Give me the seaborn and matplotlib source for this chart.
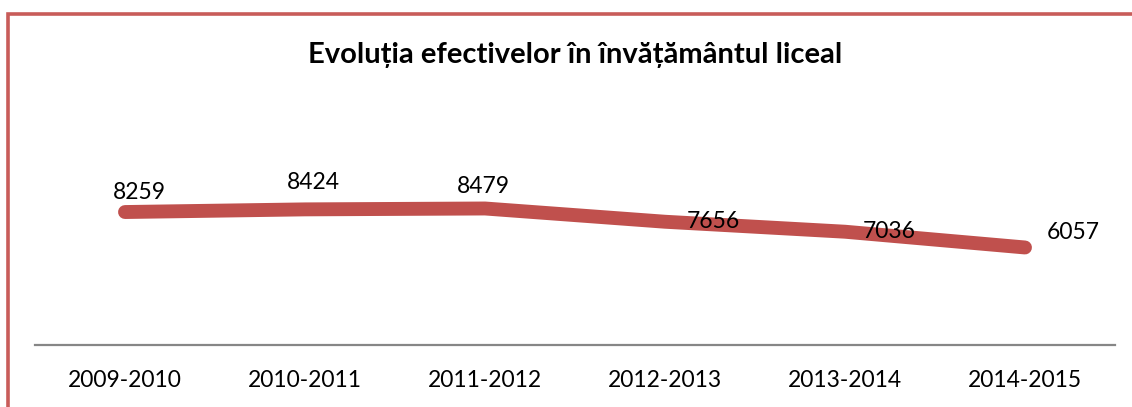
import pandas as pd
import matplotlib.pyplot as plt
import seaborn as sns
from matplotlib.patches import Rectangle

# date grafic
ani = ["2009-2010", "2010-2011", "2011-2012", "2012-2013", "2013-2014", "2014-2015"]
efective = [8259, 8424, 8479, 7656, 7036, 6057]

# deplasarea etichetelor fata de puncte (px)
dx = [14, 8, -2, 48, 44, 48]
dy = [20, 27, 22, 0, 0, 15]

df = pd.DataFrame({"An": ani, "Efective": efective})

sns.set_style("white")
plt.rcParams['font.family'] = ['Lato', 'DejaVu Sans']

fig = plt.figure(figsize=(11.32, 4.07), dpi=100)
ax = fig.add_axes([35 / 1132, 62 / 407, 1080 / 1132, 161 / 407])

rosu = "#C0504D"
sns.lineplot(data=df, x="An", y="Efective", ax=ax, color=rosu, linewidth=10,
             solid_capstyle="round")

for i, v in enumerate(efective):
    ax.annotate(str(v), (i, v), xytext=(dx[i] * 0.72, dy[i] * 0.72),
                textcoords="offset points", ha="center", va="center",
                fontsize=16.5, color="black")

ax.set_xlim(-0.5, 5.5)
ax.set_ylim(0, 10000)
ax.set_yticks([])
ax.set_xlabel("")
ax.set_ylabel("")
for s in ["top", "right", "left"]:
    ax.spines[s].set_visible(False)
ax.spines["bottom"].set_color("#868686")
ax.spines["bottom"].set_linewidth(1.6)
ax.tick_params(axis="x", length=0, pad=18, labelsize=16.5, labelcolor="black")

fig.text(575 / 1132, 1 - 55 / 407, "Evoluția efectivelor în învățământul liceal",
         ha="center", va="center", fontsize=21, fontweight="bold", color="black")

# chenarul diagramei
fig.patches.append(Rectangle((8 / 1132, -0.2), 1.2, 1.2 - 14 / 407,
                             transform=fig.transFigure, fill=False,
                             edgecolor="#C85C59", linewidth=2.6))

fig.savefig("out.png", dpi=100)
